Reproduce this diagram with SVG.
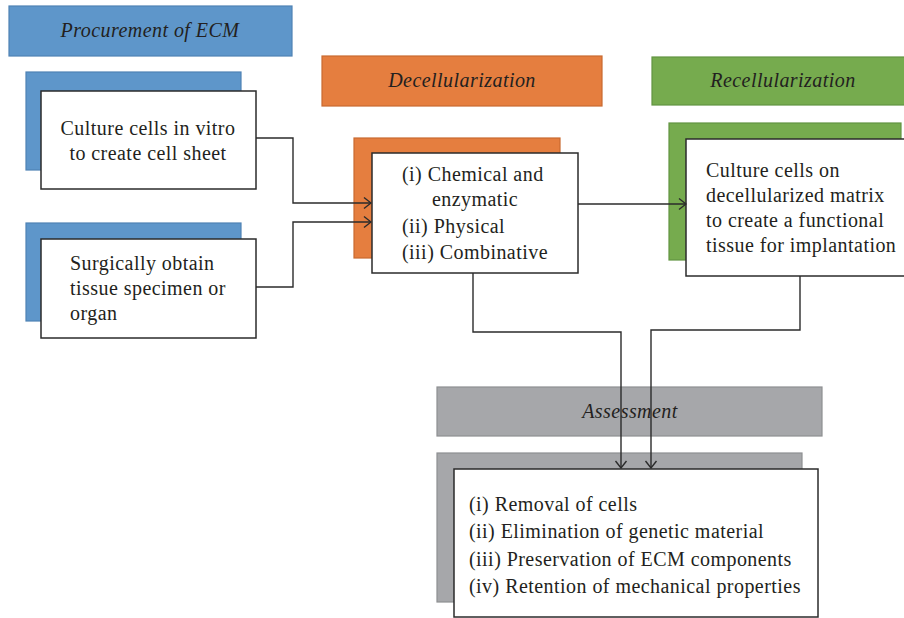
<svg xmlns="http://www.w3.org/2000/svg" width="904" height="618" viewBox="0 0 904 618">
<style>
.t{font-family:'Liberation Serif','Times New Roman',serif;font-size:20px;letter-spacing:0.45px;fill:#231F20}
.h{font-style:italic;text-anchor:middle}
.w{fill:#fff;stroke:#2b2b2b;stroke-width:1.5}
.blue{fill:#5E96CA;stroke:#4F82B4;stroke-width:1.2}
.orange{fill:#E57E3F;stroke:#C96A30;stroke-width:1.2}
.green{fill:#76AB4E;stroke:#629442;stroke-width:1.2}
.gray{fill:#A6A7AA;stroke:#8E8F92;stroke-width:1.2}
.c{fill:none;stroke:#2b2b2b;stroke-width:1.4}
</style>
<defs>
<marker id="arr" viewBox="0 0 10 14" refX="9" refY="7" markerWidth="10" markerHeight="14" markerUnits="userSpaceOnUse" orient="auto">
<path d="M2,1.5 L9,7 L2,12.5" fill="none" stroke="#2b2b2b" stroke-width="1.4"/>
</marker>
</defs>
<rect width="904" height="618" fill="#fff"/>
<g id="hdr-procurement">
<rect class="blue" x="9" y="6" width="283" height="50"/>
<text class="t h" x="150" y="37">Procurement of ECM</text>
</g>
<g id="hdr-decell">
<rect class="orange" x="322" y="56" width="280" height="50"/>
<text class="t h" x="462" y="87">Decellularization</text>
</g>
<g id="hdr-recell">
<rect class="green" x="652" y="57" width="262" height="48"/>
<text class="t h" x="783" y="87">Recellularization</text>
</g>
<g id="hdr-assess">
<rect class="gray" x="437" y="387" width="385" height="49"/>
<text class="t h" x="630" y="418">Assessment</text>
</g>
<g id="node-culture">
<rect class="blue" x="26" y="72" width="215" height="98"/>
<rect class="w" x="41" y="91" width="215" height="98"/>
<text class="t" x="148" y="135" text-anchor="middle">Culture cells in vitro</text>
<text class="t" x="148" y="160" text-anchor="middle">to create cell sheet</text>
</g>
<g id="node-surgical">
<rect class="blue" x="26" y="223" width="215" height="98"/>
<rect class="w" x="41" y="239" width="215" height="99"/>
<text class="t" x="70" y="270">Surgically obtain</text>
<text class="t" x="70" y="295">tissue specimen or</text>
<text class="t" x="70" y="320">organ</text>
</g>
<g id="node-decell">
<rect class="orange" x="354" y="138" width="206" height="120"/>
<rect class="w" x="372" y="153" width="206" height="120"/>
<text class="t" x="402" y="181">(i) Chemical and</text>
<text class="t" x="475" y="206" text-anchor="middle">enzymatic</text>
<text class="t" x="402" y="233">(ii) Physical</text>
<text class="t" x="402" y="259">(iii) Combinative</text>
</g>
<g id="node-recell">
<rect class="green" x="669" y="123" width="232" height="137"/>
<rect class="w" x="686" y="139" width="220" height="137"/>
<text class="t" x="706" y="177">Culture cells on</text>
<text class="t" x="706" y="202">decellularized matrix</text>
<text class="t" x="706" y="227">to create a functional</text>
<text class="t" x="706" y="252">tissue for implantation</text>
</g>
<g id="node-assess">
<rect class="gray" x="437" y="453" width="365" height="149"/>
<rect class="w" x="454" y="469" width="364" height="148"/>
<text class="t" x="469" y="511">(i) Removal of cells</text>
<text class="t" x="469" y="538">(ii) Elimination of genetic material</text>
<text class="t" x="469" y="566">(iii) Preservation of ECM components</text>
<text class="t" x="469" y="593">(iv) Retention of mechanical properties</text>
</g>
<g id="connectors">
<path class="c" d="M256,138 H293 V203 H371" marker-end="url(#arr)"/>
<path class="c" d="M256,287 H293 V222 H371" marker-end="url(#arr)"/>
<path class="c" d="M578,204 H686" marker-end="url(#arr)"/>
<path class="c" d="M473,273 V332 H621 V468" marker-end="url(#arr)"/>
<path class="c" d="M800,276 V330 H651 V468" marker-end="url(#arr)"/>
</g>
</svg>
